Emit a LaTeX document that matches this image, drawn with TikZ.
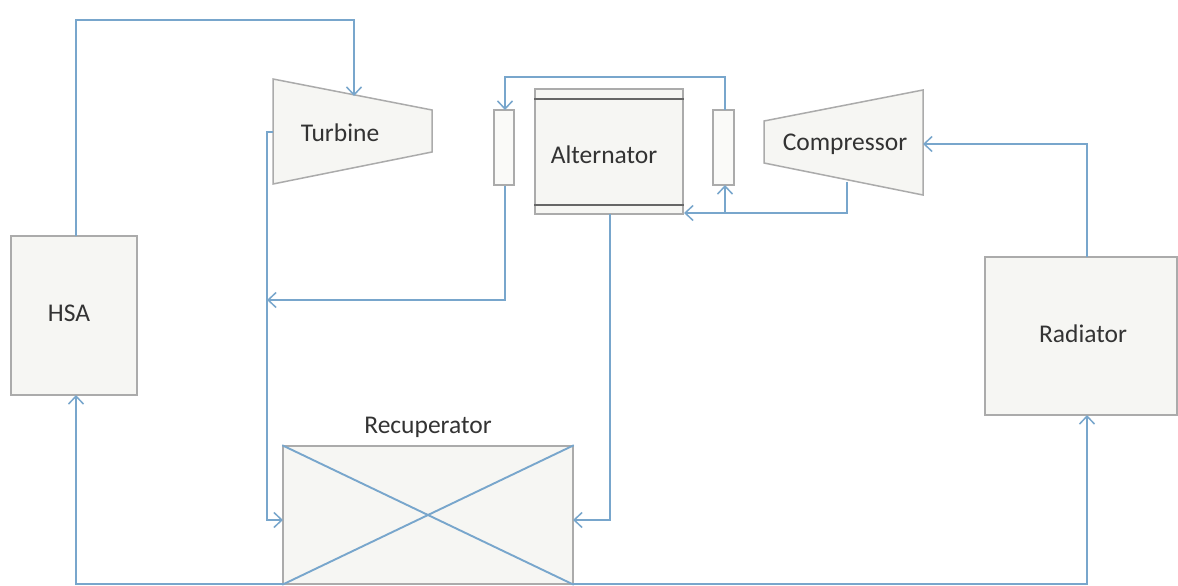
\documentclass[tikz,border=0pt]{standalone}
\usepackage{fontspec}
\setmainfont{Carlito}
\usetikzlibrary{arrows.meta,calc}
\definecolor{boxfill}{HTML}{F6F6F3}
\definecolor{boxline}{HTML}{ABABAB}
\definecolor{flow}{HTML}{78A6CC}
\tikzset{
  unit/.style={draw=boxline,fill=boxfill,line width=1.5pt,inner sep=0pt},
  slim/.style={draw=boxline,fill=boxfill!60!white,line width=1.5pt,inner sep=0pt},
  bare/.style={inner sep=0pt,font=\fontsize{25.5}{30}\selectfont,text=black!80},
  flowline/.style={draw=flow,line width=1.9pt},
  flowarrow/.style={flowline,-{Straight Barb[length=8pt,width=15pt,line width=1.5pt]}},
  bar/.style={draw=black!60,line width=2.2pt},
}
\begin{document}
\begin{tikzpicture}[x=1pt,y=-1pt]
\useasboundingbox (0,0) rectangle (1178,586);
\fill[white] (0,0) rectangle (1178,586);
% trapezoids
\coordinate (tA) at (273,79);
\coordinate (tB) at (432,110);
\coordinate (tC) at (432,152);
\coordinate (tD) at (273,184);
\coordinate (cA) at (764,121);
\coordinate (cB) at (923,90);
\coordinate (cC) at (923,195);
\coordinate (cD) at (764,163);
\draw[unit] (tA) -- (tB) -- (tC) -- (tD) -- cycle;
\draw[unit] (cA) -- (cB) -- (cC) -- (cD) -- cycle;
\node[bare] (turbine) at (340,133) {Turbine};
\node[bare] (compressor) at (845,144) {Compressor};
% boxes
\node[unit,minimum width=126pt,minimum height=159pt] (hsa) at (74,315.5) {};
\node[bare] (hsalabel) at (69,313) {HSA};
\node[unit,minimum width=192pt,minimum height=158pt] (radiator) at (1081,336) {};
\node[bare] (radlabel) at (1083,334) {Radiator};
\node[unit,minimum width=148pt,minimum height=125pt] (alt) at (609,151.5) {};
\node[bare] (altlabel) at (604,155) {Alternator};
\node[slim,minimum width=20pt,minimum height=75pt] (sl) at (504,147.5) {};
\node[slim,minimum width=21pt,minimum height=75pt] (sr) at (723.5,147.5) {};
\node[unit,minimum width=290pt,minimum height=138pt] (rec) at (428,515) {};
\node[bare] (reclabel) at (428,427) {Recuperator};
\draw[bar] (alt.north west |- 0,99) -- (alt.north east |- 0,99);
\draw[bar] (alt.north west |- 0,205) -- (alt.north east |- 0,205);
% crossing
\draw[flowline] (rec.north west) -- (rec.south east);
\draw[flowline] (rec.north east) -- (rec.south west);
% helper points
\coordinate (hsaT) at (76,236);
\coordinate (hsaB) at (76,395);
\coordinate (turbIn) at (354,96);
\coordinate (turbOut) at (273,132);
\coordinate (recL) at (283,520);
\coordinate (recR) at (573,520);
\coordinate (join) at (267,300);
\coordinate (altOut) at (610,214);
\coordinate (compOut) at (847,182);
\coordinate (altIn) at (684,213);
\coordinate (tee) at (725,213);
\coordinate (radT) at (1087,257);
\coordinate (radB) at (1087,415);
\coordinate (compIn) at (923,144);
% connectors
\draw[flowarrow] (hsaT) -- (76,20) -- (354,20) -- (turbIn);
\draw[flowarrow] (turbOut) -- (267,132) -- (267,520) -- (recL);
\draw[flowarrow] (sl.south) ++(1,0) -- (505,300) -- (join);
\draw[flowarrow] (725,110) -- (725,77) -- (505,77) -- (505,110);
\draw[flowarrow] (compOut) -- (847,213) -- (altIn);
\draw[flowarrow] (tee) -- (725,185);
\draw[flowarrow] (altOut) -- (610,520) -- (recR);
\draw[flowarrow] (283,584) -- (76,584) -- (hsaB);
\draw[flowarrow] (573,584) -- (1087,584) -- (radB);
\draw[flowarrow] (radT) -- (1087,144) -- (compIn);
\end{tikzpicture}
\end{document}
